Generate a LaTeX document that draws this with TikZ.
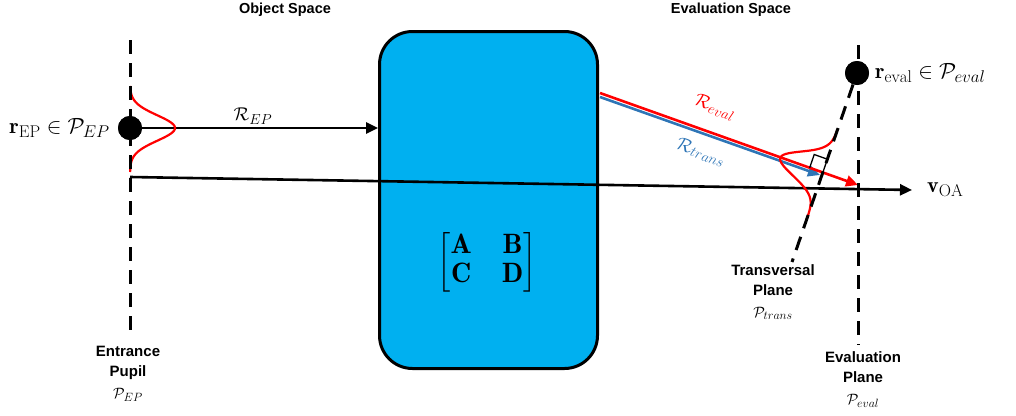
\RequirePackage{fix-cm}
\documentclass[tikz,border=0pt]{standalone}
\usepackage{amsmath}
\usepackage{fontspec}
\newfontfamily\labelfont{Liberation Sans}
\usetikzlibrary{arrows.meta,calc}
\definecolor{boxcyan}{RGB}{0,176,240}
\definecolor{transblue}{RGB}{46,117,182}
\definecolor{evalred}{RGB}{255,0,0}
% roomier sub- and superscripts for the label sizes
\DeclareMathSizes{15}{15}{12}{9}
\DeclareMathSizes{18.5}{18.5}{14.5}{11}
\DeclareMathSizes{22}{22}{17}{13}

\begin{document}
\begin{tikzpicture}[x=1pt,y=-1pt,
  planeline/.style={line width=3pt, dash pattern=on 14pt off 9pt},
  rayline/.style={line width=2.6pt, -{Triangle[length=12pt,width=11pt]}},
  gausscurve/.style={evalred, line width=2.2pt},
  dotnode/.style={circle, fill=black, inner sep=0pt, minimum size=24pt},
  captext/.style={font=\labelfont\bfseries\fontsize{15}{20}\selectfont, align=center, inner sep=0pt},
  headtext/.style={font=\labelfont\bfseries\fontsize{14.5}{17}\selectfont},
  mathlbl/.style={font=\fontsize{18.5}{22}\selectfont, inner sep=1pt},
  biglbl/.style={font=\fontsize{22}{26}\selectfont, inner sep=1pt}]

\useasboundingbox (0,0) rectangle (1016,415);

% optical system block with its ABCD matrix
\node[draw, fill=boxcyan, line width=3pt, rounded corners=33pt,
      minimum width=218pt, minimum height=337pt, inner sep=0pt] (sys) at (488.5,200) {};
\node[font=\fontsize{28}{34}\selectfont, inner sep=0pt] (abcd) at (487,262)
  {$\setlength{\arraycolsep}{15pt}\renewcommand{\arraystretch}{0.85}%
   \begin{bmatrix}\mathbf{A} & \mathbf{B}\\ \mathbf{C} & \mathbf{D}\end{bmatrix}$};

% key points
\coordinate (epTop) at (130,40);
\coordinate (epBot) at (130,330);
\coordinate (evTop) at (858,45);
\coordinate (evBot) at (858,345);
\coordinate (trBot) at (792,262);
\coordinate (oaStart) at (130,177);
\coordinate (oaEnd) at (912,190);
\coordinate (evalStart) at (600,93);
\coordinate (evalHit) at (858,185);
\coordinate (transStart) at (600,97);
\coordinate (transHit) at (820,175);
\node[dotnode] (rEP) at (130,128) {};
\node[dotnode] (rEval) at (857,73) {};

% optical axis
\draw[rayline] (oaStart) -- (oaEnd);
% ray from the entrance pupil into the system
\draw[rayline] (rEP) -- (rEP -| sys.west);
% output rays
\draw[rayline, transblue] (transStart) -- (transHit);
\draw[rayline, evalred] (evalStart) -- (evalHit);

% entrance pupil distribution
\draw[gausscurve] plot[domain=86:172, samples=70, variable=\t]
  ({130+45*exp(-((\t-128)/18)^2)}, \t);

% transversal plane distribution
\coordinate (C) at (intersection of evalStart--evalHit and rEval--trBot);
\draw[gausscurve, shift={(C)}] plot[domain=-46:50, samples=70, variable=\s]
  ({-0.3252*\s - 0.9456*45*exp(-(\s/18)^2)}, {0.9456*\s - 0.3252*45*exp(-(\s/18)^2)});

% right-angle marker
\coordinate (sqA) at ($(C)!14pt!(rEval)$);
\coordinate (sqC) at ($(C)!14pt!(evalStart)$);
\coordinate (sqB) at ($(sqA)+(sqC)-(C)$);
\draw[line width=1.3pt] (C) -- (sqA) -- (sqB) -- (sqC);

% planes
\draw[planeline] (epTop) -- (epBot);
\draw[planeline] (evTop) -- (evBot);
\draw[planeline] (rEval) -- (trBot);
\node[dotnode] at (rEP) {};
\node[dotnode] at (rEval) {};

% labels
\node[biglbl, anchor=east] (rEPlbl) at (111,128) {$\mathbf{r}_{\mathrm{EP}} \in \mathcal{P}_{EP}$};
\node[biglbl, anchor=west] (rEvallbl) at (874,73) {$\mathbf{r}_{\mathrm{eval}} \in \mathcal{P}_{eval}$};
\node[biglbl, anchor=west] (vOAlbl) at (926,190) {$\mathbf{v}_{\mathrm{OA}}$};
\node[mathlbl] (REPlbl) at (253,116) {$\mathcal{R}_{EP}$};
\node[mathlbl, text=evalred, rotate=-19.7] (Revallbl) at (715,107) {$\mathcal{R}_{eval}$};
\node[mathlbl, text=transblue, rotate=-19.7] (Rtranslbl) at (701,152) {$\mathcal{R}_{trans}$};

\node[headtext] (objhead) at (285,10) {Object Space};
\node[headtext] (evalhead) at (731,10) {Evaluation Space};

\node[captext, anchor=north] (eplbl) at (128,346) {Entrance\\Pupil\\[2pt]$\mathcal{P}_{EP}$};
\node[captext, anchor=north] (trlbl) at (773,264) {Transversal\\Plane\\[2pt]$\mathcal{P}_{trans}$};
\node[captext, anchor=north] (evlbl) at (863,351) {Evaluation\\Plane\\[2pt]$\mathcal{P}_{eval}$};
\end{tikzpicture}
\end{document}
